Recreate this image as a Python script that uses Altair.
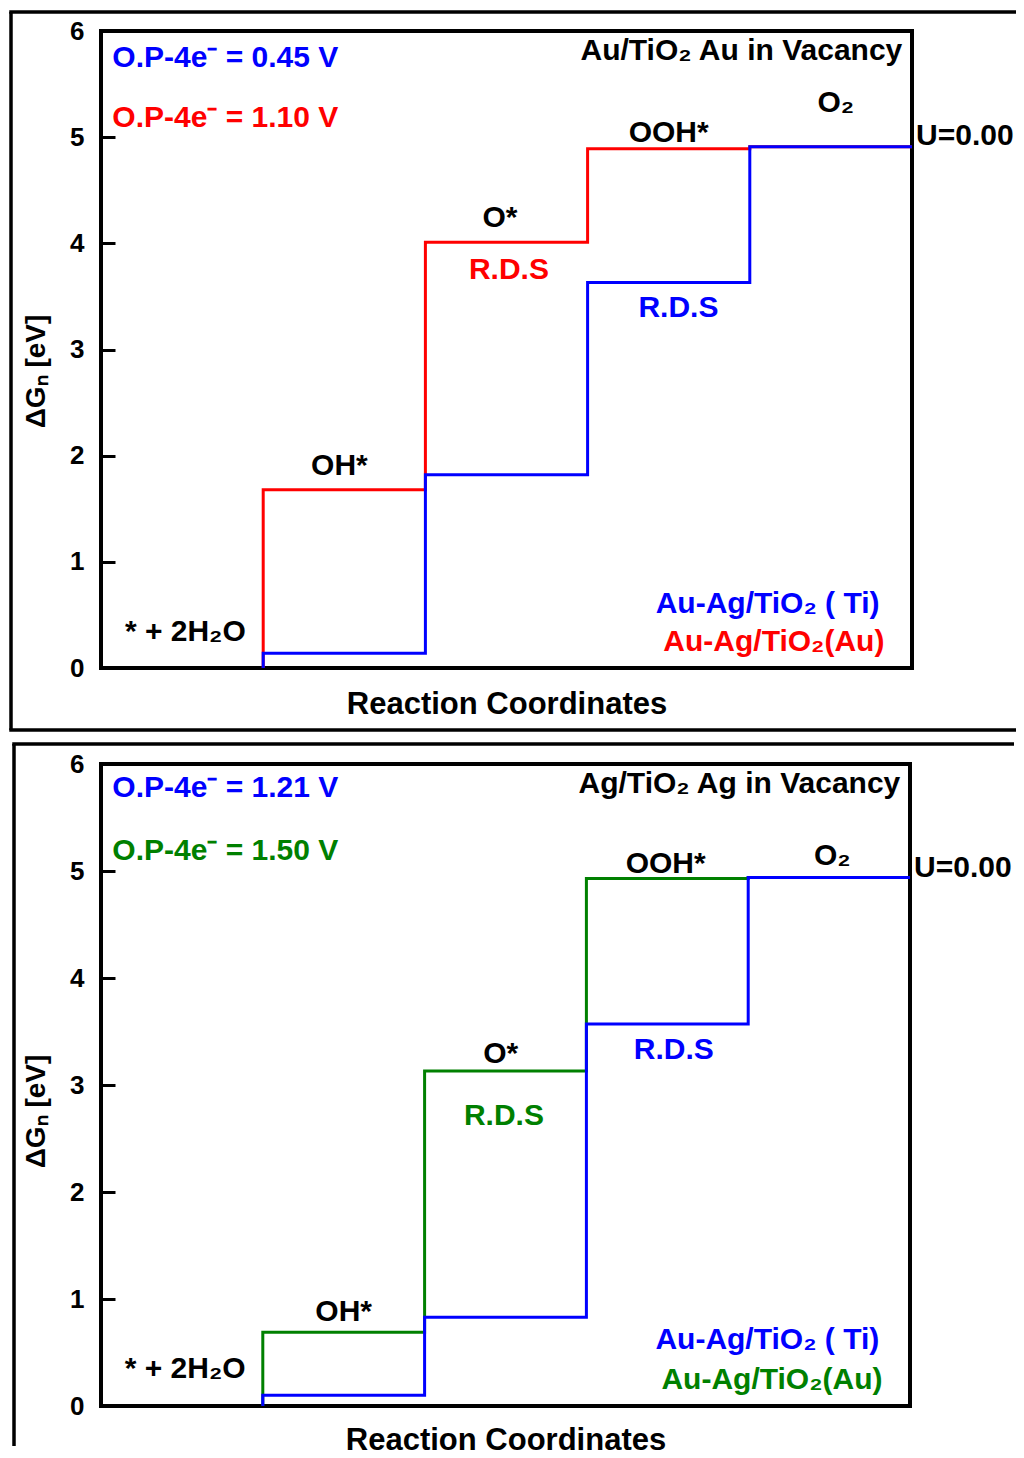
import altair as alt
import pandas as pd

# ---------------- data ----------------
stage_pos = [0, 1, 2, 3, 4]            # * + 2H2O, OH*, O*, OOH*, O2
top_ti = [0.0, 0.14, 1.82, 3.63, 4.91]  # Au-Ag/TiO2 (Ti)  (blue)
top_au = [0.0, 1.68, 4.01, 4.89, 4.91]  # Au-Ag/TiO2 (Au)  (red)
bot_ti = [0.0, 0.10, 0.83, 3.57, 4.94]  # Au-Ag/TiO2 (Ti)  (blue)
bot_au = [0.0, 0.69, 3.13, 4.93, 4.94]  # Au-Ag/TiO2 (Au)  (green)
y_ticks = [0, 1, 2, 3, 4, 5, 6]

BLUE = "#0000FF"
RED = "#FF0000"
GREEN = "#008000"
BLACK = "#000000"
FONT = "Liberation Sans"

top_label_text = ["O.P-4e⁻ = 0.45 V", "O.P-4e⁻ = 1.10 V", "Au/TiO₂ Au in Vacancy", "O₂",
                  "U=0.00", "OOH*", "O*", "R.D.S", "R.D.S", "OH*", "* + 2H₂O",
                  "Au-Ag/TiO₂ ( Ti)", "Au-Ag/TiO₂(Au)"]
top_label_x = [-0.93, -0.93, 3.94, 3.53, 4.025, 2.5, 1.46, 1.515, 2.56, 0.47, -0.48, 3.80, 3.83]
top_label_y = [5.75, 5.18, 5.81, 5.32, 5.01, 5.04, 4.24, 3.75, 3.39, 1.90, 0.34, 0.60, 0.245]
top_label_color = [BLUE, RED, BLACK, BLACK, BLACK, BLACK, BLACK, RED, BLUE, BLACK, BLACK, BLUE, RED]

bot_label_text = ["O.P-4e⁻ = 1.21 V", "O.P-4e⁻ = 1.50 V", "Ag/TiO₂ Ag in Vacancy", "O₂",
                  "U=0.00", "OOH*", "O*", "R.D.S", "R.D.S", "OH*", "* + 2H₂O",
                  "Au-Ag/TiO₂ ( Ti)", "Au-Ag/TiO₂(Au)"]
bot_label_x = [-0.93, -0.93, 3.94, 3.52, 4.025, 2.49, 1.47, 1.49, 2.54, 0.50, -0.48, 3.81, 3.83]
bot_label_y = [5.78, 5.19, 5.81, 5.14, 5.03, 5.07, 3.29, 2.71, 3.33, 0.88, 0.35, 0.62, 0.24]
bot_label_color = [BLUE, GREEN, BLACK, BLACK, BLACK, BLACK, BLACK, GREEN, BLUE, BLACK, BLACK, BLUE, GREEN]

label_align = ["left", "left", "right", "center", "left", "center", "center", "center",
               "center", "center", "center", "right", "right"]


def panel(ti, au, au_color, texts, xs_, ys_, colors, W, H, frame_left, frame_top,
          frame_bottom, draw_bottom, title_y, title_pad):
    xscale = alt.Scale(domain=[-1, 4], nice=False, zero=False)
    yscale = alt.Scale(domain=[0, 6], nice=False, zero=False)
    xaxis = alt.Axis(title="Reaction Coordinates", ticks=False, labels=False, domain=False,
                     grid=False, titleFont=FONT, titleFontSize=31, titleFontWeight="bold",
                     titleColor="black", titlePadding=title_pad)
    yaxis = alt.Axis(title="ΔGₙ [eV]", values=y_ticks, offset=-14, tickSize=14, tickWidth=3,
                     tickColor="black", domain=False, grid=False, labelFont=FONT,
                     labelFontSize=26, labelFontWeight="bold", labelColor="black",
                     labelPadding=17, labelFlush=False, labelOverlap=False,
                     titleFont=FONT, titleFontSize=28, titleFontWeight="bold",
                     titleColor="black", titlePadding=19, titleY=title_y)
    X = alt.X("step:Q", scale=xscale, axis=xaxis)
    Y = alt.Y("G:Q", scale=yscale, axis=yaxis)

    df_au = pd.DataFrame({"step": stage_pos, "G": au})
    df_ti = pd.DataFrame({"step": stage_pos, "G": ti})
    df_lab = pd.DataFrame({"label": texts, "step": xs_, "G": ys_, "c": colors,
                           "al": label_align})

    one = pd.DataFrame({"k": [0]})
    right_end = W + 104
    fr = dict(color="black", strokeWidth=3.5, clip=False)
    layers = [
        alt.Chart(one).mark_rule(**fr).encode(
            x=alt.value(frame_left - 1.75), x2=alt.value(right_end), y=alt.value(frame_top)),
        alt.Chart(one).mark_rule(**fr).encode(
            x=alt.value(frame_left), y=alt.value(frame_top), y2=alt.value(frame_bottom)),
    ]
    if draw_bottom:
        layers.append(alt.Chart(one).mark_rule(**fr).encode(
            x=alt.value(frame_left - 1.75), x2=alt.value(right_end), y=alt.value(frame_bottom)))

    layers.append(alt.Chart(df_au).mark_line(interpolate="step-before", color=au_color,
                                             strokeWidth=3).encode(x=X, y=Y))
    layers.append(alt.Chart(df_ti).mark_line(interpolate="step-before", color=BLUE,
                                             strokeWidth=3).encode(x=X, y=Y))
    for al in ["left", "center", "right"]:
        layers.append(
            alt.Chart(df_lab).transform_filter(alt.datum.al == al).mark_text(
                align=al, baseline="middle", font=FONT, fontSize=30, fontWeight="bold"
            ).encode(x=X, y=Y, text="label:N", color=alt.Color("c:N", scale=None))
        )
    return alt.layer(*layers).properties(width=W, height=H)


top = panel(top_ti, top_au, RED, top_label_text, top_label_x, top_label_y, top_label_color,
            811, 637, -90, -19, 637 + 62, True, 340, 21)
bot = panel(bot_ti, bot_au, GREEN, bot_label_text, bot_label_x, bot_label_y, bot_label_color,
            809, 642, -87, -20, 642 + 40, False, 347, 19)

chart = alt.vconcat(top, bot, spacing=6).properties(
    padding={"left": 5, "top": 8, "right": 0, "bottom": 0},
    background="white",
).configure_view(stroke="black", strokeWidth=4)

chart.save("out.html", embed_options={"renderer": "svg", "actions": False})
